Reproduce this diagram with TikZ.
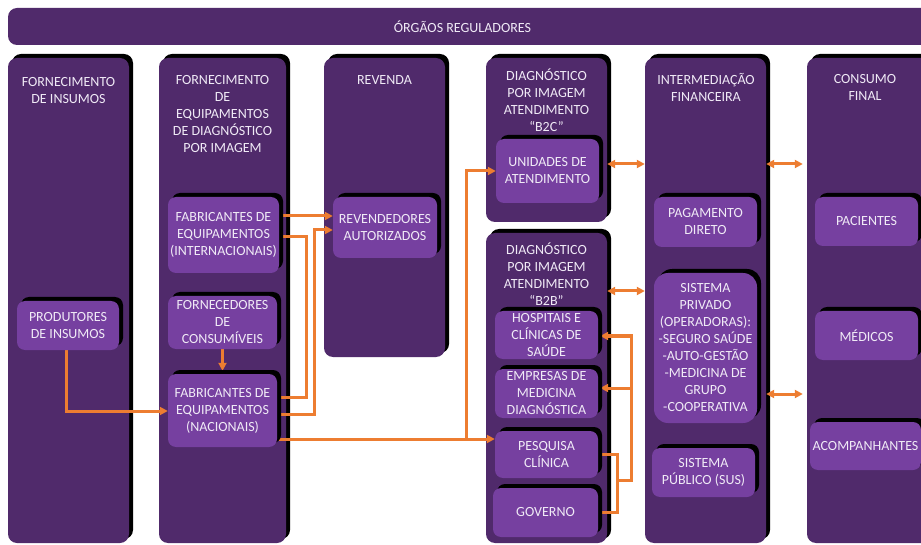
\documentclass[tikz,border=0pt]{standalone}
\usepackage{fontspec}
\setmainfont{Carlito}
\usetikzlibrary{shadows,arrows.meta}
\pgfdeclarelayer{bg}
\pgfdeclarelayer{mid}
\pgfsetlayers{bg,mid,main}
\definecolor{dkp}{HTML}{502A6B}
\definecolor{ltp}{HTML}{7640A0}
\definecolor{txt}{HTML}{F0EAF6}
\definecolor{org}{HTML}{ED7D31}
\tikzset{
  shad/.style={drop shadow={shadow xshift=4pt,shadow yshift=4pt,opacity=1,fill=black}},
  colbox/.style={shad, fill=dkp, rounded corners=9pt, inner sep=0pt},
  banner/.style={fill=dkp, rounded corners=9pt, inner sep=0pt},
  itembox/.style={shad, fill=ltp, rounded corners=8pt, inner sep=0pt, align=center, text=txt, font=\fontsize{14}{17}\selectfont},
  hdr/.style={align=center, text=txt, font=\fontsize{14}{17}\selectfont, inner sep=0pt},
  conn/.style={draw=org, line width=3pt},
  tip/.style={-{Triangle[length=8pt,width=8pt]}},
  dtip/.style={{Triangle[length=8pt,width=8pt]}-{Triangle[length=8pt,width=8pt]}},
}
\begin{document}
\begin{tikzpicture}[x=1pt,y=-1pt]
\useasboundingbox (0,0) rectangle (921,545);
\begin{pgfonlayer}{bg}
\fill[white] (0,0) rectangle (921,545);
\node[banner, minimum width=927pt, minimum height=37pt] (reg) at (471.5,26.5) {};
\node[colbox, minimum width=121pt, minimum height=485pt] (c1) at (68.5,300.5) {};
\node[colbox, minimum width=127pt, minimum height=485pt] (c2) at (222.5,300.5) {};
\node[colbox, minimum width=121pt, minimum height=299pt] (c3) at (384.5,207.5) {};
\node[colbox, minimum width=121pt, minimum height=164pt] (c4a) at (546.5,140) {};
\node[colbox, minimum width=121pt, minimum height=310pt] (c4b) at (546.5,388) {};
\node[colbox, minimum width=121pt, minimum height=485pt] (c5) at (705.5,300.5) {};
\node[colbox, minimum width=125pt, minimum height=485pt] (c6) at (869.5,300.5) {};
\end{pgfonlayer}

\node[hdr] (regt) at (462.5,26.5) {ÓRGÃOS REGULADORES};
\node[hdr] (h1) at (68.5,90.5) {FORNECIMENTO\\DE INSUMOS};
\node[hdr] (h2) at (222.5,114) {FORNECIMENTO\\DE\\EQUIPAMENTOS\\DE DIAGNÓSTICO\\POR IMAGEM};
\node[hdr] (h3) at (384.5,80) {REVENDA};
\node[hdr] (h4a) at (546.5,100) {DIAGNÓSTICO\\POR IMAGEM\\ATENDIMENTO\\“B2C”};
\node[hdr] (h4b) at (546.5,274.5) {DIAGNÓSTICO\\POR IMAGEM\\ATENDIMENTO\\“B2B”};
\node[hdr] (h5) at (706,87.5) {INTERMEDIAÇÃO\\FINANCEIRA};
\node[hdr] (h6) at (865,87) {CONSUMO\\FINAL};

\node[itembox, minimum width=102pt, minimum height=49pt] (prod) at (68,325.5) {PRODUTORES\\DE INSUMOS};
\node[itembox, minimum width=111pt, minimum height=76pt] (fabint) at (223.5,235) {FABRICANTES DE\\EQUIPAMENTOS\\(INTERNACIONAIS)};
\node[itembox, minimum width=109pt, minimum height=53pt] (forn) at (222.5,322.5) {FORNECEDORES\\DE\\CONSUMÍVEIS};
\node[itembox, minimum width=109pt, minimum height=73pt] (fabnac) at (222.5,410.5) {FABRICANTES DE\\EQUIPAMENTOS\\(NACIONAIS)};
\node[itembox, minimum width=104pt, minimum height=61pt] (rev) at (385,227.5) {REVENDEDORES\\AUTORIZADOS};
\node[itembox, minimum width=103pt, minimum height=64pt] (unid) at (547.5,171) {UNIDADES DE\\ATENDIMENTO};
\node[itembox, minimum width=103pt, minimum height=48pt] (hosp) at (546.5,335) {HOSPITAIS E\\CLÍNICAS DE\\SAÚDE};
\node[itembox, minimum width=103pt, minimum height=49pt] (emp) at (546.5,393.5) {EMPRESAS DE\\MEDICINA\\DIAGNÓSTICA};
\node[itembox, minimum width=103pt, minimum height=47pt] (pesq) at (546.5,454.5) {PESQUISA\\CLÍNICA};
\node[itembox, minimum width=105pt, minimum height=49pt] (gov) at (545.5,512.5) {GOVERNO};
\node[itembox, minimum width=103pt, minimum height=50pt] (pag) at (705.5,222) {PAGAMENTO\\DIRETO};
\node[itembox, rounded corners=14pt, minimum width=103pt, minimum height=150pt] (priv) at (705.5,348) {SISTEMA\\PRIVADO\\(OPERADORAS):\\-SEGURO SAÚDE\\-AUTO-GESTÃO\\-MEDICINA DE\\GRUPO\\-COOPERATIVA};
\node[itembox, minimum width=103pt, minimum height=49pt] (pub) at (703.5,472.5) {SISTEMA\\PÚBLICO (SUS)};
\node[itembox, minimum width=103pt, minimum height=49pt] (pac) at (866.5,221.5) {PACIENTES};
\node[itembox, minimum width=103pt, minimum height=49pt] (med) at (866.5,335.5) {MÉDICOS};
\node[itembox, minimum width=111pt, minimum height=48pt] (acomp) at (865.5,446) {ACOMPANHANTES};

\coordinate (j1) at (466,439);
\coordinate (b1) at (306,397);
\coordinate (b2) at (314,230);
\coordinate (e1) at (617,512);
\coordinate (e2) at (617,480);
\coordinate (e3) at (631,336);
\coordinate (e4) at (631,388);
\coordinate (p1) at (66,411);

\begin{pgfonlayer}{mid}
\draw[conn,tip] (fabint.east |- 0,216) -- (rev.west |- 0,216);
\draw[conn] (fabint.east |- 0,237) -| (b1) -- (fabnac.east |- b1);
\draw[conn,tip] (fabnac.east |- 0,414) -| (b2) -- (rev.west |- b2);
\draw[conn,tip] (p1 |- prod.south) -- (p1) -- (fabnac.west |- p1);
\draw[conn,tip,shorten >=3pt] (forn.south) -- (fabnac.north);
\draw[conn,tip] (fabnac.east |- j1) -- (j1) |- (unid.west);
\draw[conn,tip] (j1) -- (pesq.west |- j1);
\draw[conn] (pesq.east |- 0,454) -| (e1) -- (gov.east |- e1);
\draw[conn,tip,shorten >=2pt] (e2) -| (e3) -- (hosp.east |- e3);
\draw[conn,tip,shorten >=2pt] (e4) -- (emp.east |- e4);
\draw[conn,dtip] (c4a.east |- 0,164) -- (c5.west |- 0,164);
\draw[conn,dtip,shorten >=4pt] (c5.east |- 0,164) -- (c6.west |- 0,164);
\draw[conn,dtip] (c4b.east |- 0,291) -- (c5.west |- 0,291);
\draw[conn,dtip,shorten >=4pt] (c5.east |- 0,394) -- (c6.west |- 0,394);
\end{pgfonlayer}
\end{tikzpicture}
\end{document}
